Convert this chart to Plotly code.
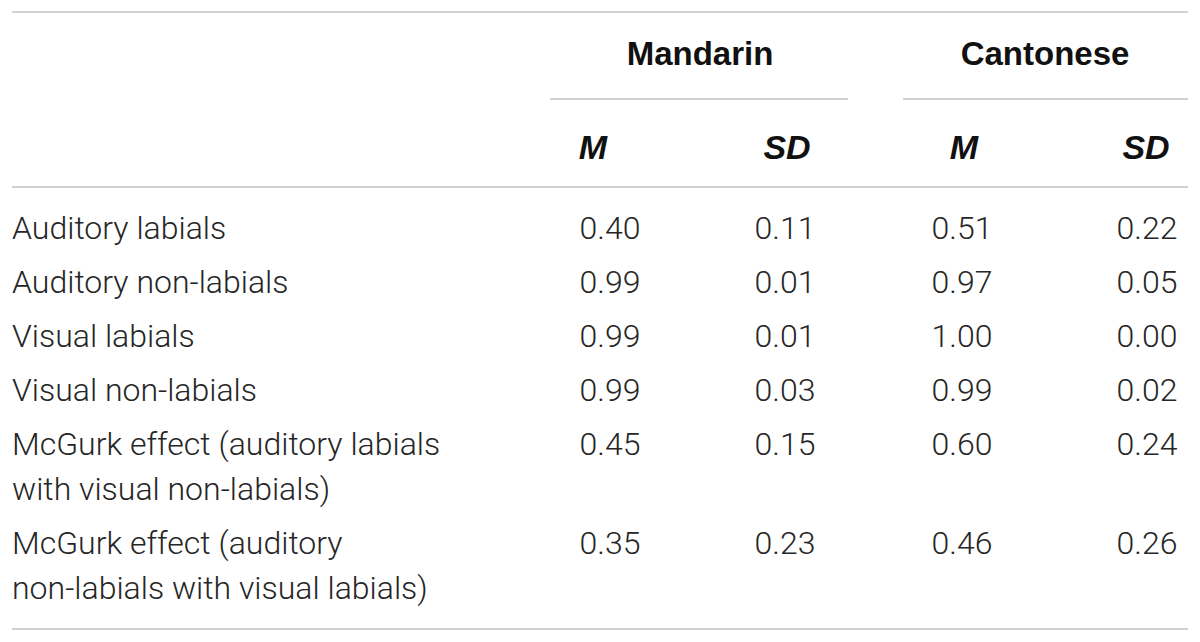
import plotly.graph_objects as go

# table content
row_labels = [
    "Auditory labials",
    "Auditory non-labials",
    "Visual labials",
    "Visual non-labials",
    "McGurk effect (auditory labials\nwith visual non-labials)",
    "McGurk effect (auditory\nnon-labials with visual labials)",
]
groups = ["Mandarin", "Cantonese"]
stat_labels = ["M", "SD"]
mandarin_m = [0.40, 0.99, 0.99, 0.99, 0.45, 0.35]
mandarin_sd = [0.11, 0.01, 0.01, 0.03, 0.15, 0.23]
cantonese_m = [0.51, 0.97, 1.00, 0.99, 0.60, 0.46]
cantonese_sd = [0.22, 0.05, 0.00, 0.02, 0.24, 0.26]

body_font = dict(family="Roboto", size=32, color="#262626", weight=300)
head_font = dict(family="Liberation Sans", size=33, color="#111111", weight="bold")
stat_font = dict(family="Liberation Sans", size=34, color="#111111", weight="bold", style="italic")
rule = dict(color="#c2c2c2", width=1.5)

dy = 3  # text glyphs sit a little above their anchor point

# row centre positions (first line of every row), two-line rows are taller
row_y = []
y = 228 + dy
for lab in row_labels:
    row_y.append(y)
    y += 54 + (lab.count("\n")) * 45

fig = go.Figure()

# first column, one text point per printed line
lab_x, lab_y, lab_t = [], [], []
for lab, ry in zip(row_labels, row_y):
    for k, line in enumerate(lab.split("\n")):
        lab_x.append(12)
        lab_y.append(ry + k * 45)
        lab_t.append(line)
fig.add_trace(go.Scatter(x=lab_x, y=lab_y, text=lab_t, mode="text",
                         textposition="middle right", textfont=body_font, hoverinfo="skip"))

# value columns: (values, value x centre, header x centre)
columns = [
    (mandarin_m, 610, 593),
    (mandarin_sd, 785, 787),
    (cantonese_m, 962, 964),
    (cantonese_sd, 1147, 1146),
]
for i, (vals, vx, hx) in enumerate(columns):
    fig.add_trace(go.Scatter(x=[vx] * len(vals), y=row_y, text=[f"{v:.2f}" for v in vals],
                             mode="text", textposition="middle center", textfont=body_font,
                             hoverinfo="skip"))
    fig.add_trace(go.Scatter(x=[hx], y=[147 + dy], text=[stat_labels[i % 2]], mode="text",
                             textposition="middle center", textfont=stat_font, hoverinfo="skip"))

# group headers with their short rules
group_x = [700, 1045]
group_rule = [(550, 848), (903, 1188)]
fig.add_trace(go.Scatter(x=group_x, y=[54 + dy] * 2, text=groups, mode="text",
                         textposition="middle center", textfont=head_font, hoverinfo="skip"))
for x0, x1 in group_rule:
    fig.add_shape(type="line", x0=x0, x1=x1, y0=99, y1=99, line=rule)

# full-width rules
for yy in [12, 187, 629]:
    fig.add_shape(type="line", x0=12, x1=1188, y0=yy, y1=yy, line=rule)

# the page body has an 8px margin, so the axes start at 8 to keep page pixels = data units
fig.update_layout(
    width=1192,
    height=634,
    margin=dict(l=0, r=0, t=0, b=0),
    paper_bgcolor="white",
    plot_bgcolor="white",
    showlegend=False,
    xaxis=dict(range=[8, 1200], visible=False, fixedrange=True),
    yaxis=dict(range=[642, 8], visible=False, fixedrange=True),
)

fig.write_html("out.html")
